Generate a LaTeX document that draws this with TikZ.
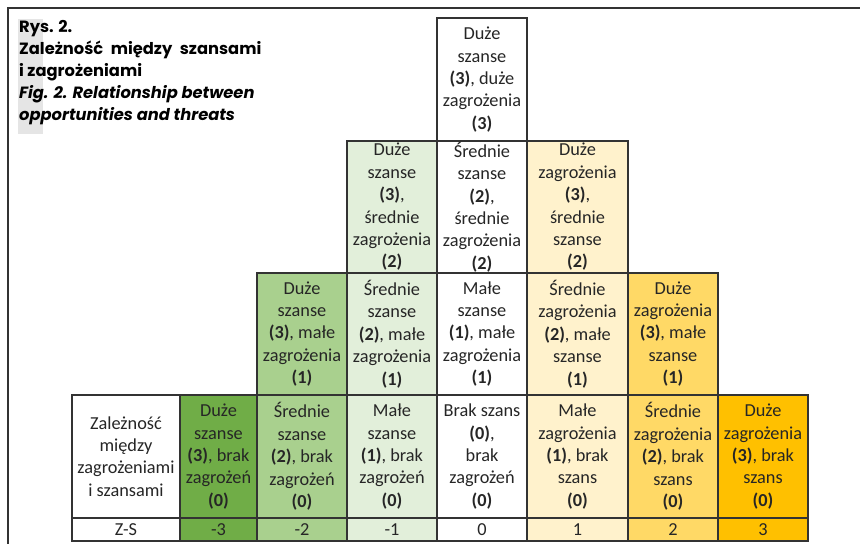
\documentclass[tikz,border=0pt]{standalone}
\usepackage{fontspec}
\setmainfont{Carlito}
\newfontfamily\titlefont{Poppins}
\definecolor{dgreen}{HTML}{70AD47}
\definecolor{mgreen}{HTML}{A9D08E}
\definecolor{lgreen}{HTML}{E2EFDA}
\definecolor{lyellow}{HTML}{FFF2CC}
\definecolor{myellow}{HTML}{FFD966}
\definecolor{dyellow}{HTML}{FFC000}
\definecolor{txt}{HTML}{262626}
\newcommand\cellfnt{\fontsize{18.3}{22.4}\selectfont}
\newcommand\ttlfnt{\titlefont\bfseries\fontsize{16.3}{21.7}\selectfont}
\begin{document}
\begin{tikzpicture}[x=1pt,y=-1pt,
  cell/.style={draw=black!80, line width=1.2pt, inner sep=0pt, align=center, font=\cellfnt, text=txt},
  ttl/.style={anchor=base west, inner sep=0pt, font=\ttlfnt, text=black},
  frame/.style={draw=black!80, line width=1.4pt}]
\useasboundingbox (0,0) rectangle (860,544);
% frame
\coordinate (ftr) at (860,8);
\coordinate (ftl) at (8,8);
\coordinate (fbl) at (8,544);
\draw[frame] (ftr) -- (ftl) -- (fbl);
% title
\fill[black!10] (18,19) rectangle (43,134);
\node[ttl] (t1) at (19,32) {Rys. 2.};
\node[ttl] (t2) at (19,54) {Zależność\hspace{0.25em} między\hspace{0.25em} szansami};
\node[ttl] (t3) at (19,76) {i zagrożeniami};
\node[ttl,font=\ttlfnt\itshape] (t4) at (19,98) {Fig. 2. Relationship between};
\node[ttl,font=\ttlfnt\itshape] (t5) at (19,120) {opportunities and threats};
% row 4
\node[cell,fill=white,minimum width=90pt,minimum height=123pt] (r4e) at (482,79.5)
  {Duże\\szanse\\\textbf{(3)}, duże\\zagrożenia\\\textbf{(3)}};
% row 3
\node[cell,fill=lgreen,minimum width=90pt,minimum height=132pt] (r3d) at (392,207)
  {Duże\\szanse\\\textbf{(3)},\\średnie\\zagrożenia\\\textbf{(2)}};
\node[cell,fill=white,minimum width=90pt,minimum height=132pt] (r3e) at (482,207)
  {Średnie\\szanse\\\textbf{(2)},\\średnie\\zagrożenia\\\textbf{(2)}};
\node[cell,fill=lyellow,minimum width=101pt,minimum height=132pt] (r3f) at (577.5,207)
  {Duże\\zagrożenia\\\textbf{(3)},\\średnie\\szanse\\\textbf{(2)}};
% row 2
\node[cell,fill=mgreen,minimum width=90pt,minimum height=122pt] (r2c) at (302,334)
  {Duże\\szanse\\\textbf{(3)}, małe\\zagrożenia\\\textbf{(1)}};
\node[cell,fill=lgreen,minimum width=90pt,minimum height=122pt] (r2d) at (392,334)
  {Średnie\\szanse\\\textbf{(2)}, małe\\zagrożenia\\\textbf{(1)}};
\node[cell,fill=white,minimum width=90pt,minimum height=122pt] (r2e) at (482,334)
  {Małe\\szanse\\\textbf{(1)}, małe\\zagrożenia\\\textbf{(1)}};
\node[cell,fill=lyellow,minimum width=101pt,minimum height=122pt] (r2f) at (577.5,334)
  {Średnie\\zagrożenia\\\textbf{(2)}, małe\\szanse\\\textbf{(1)}};
\node[cell,fill=myellow,minimum width=90pt,minimum height=122pt] (r2g) at (673,334)
  {Duże\\zagrożenia\\\textbf{(3)}, małe\\szanse\\\textbf{(1)}};
% row 1
\node[cell,fill=white,minimum width=108pt,minimum height=123pt] (r1a) at (126,456.5)
  {Zależność\\między\\zagrożeniami\\i szansami};
\node[cell,fill=dgreen,minimum width=77pt,minimum height=123pt] (r1b) at (218.5,456.5)
  {Duże\\szanse\\\textbf{(3)}, brak\\zagrożeń\\\textbf{(0)}};
\node[cell,fill=mgreen,minimum width=90pt,minimum height=123pt] (r1c) at (302,456.5)
  {Średnie\\szanse\\\textbf{(2)}, brak\\zagrożeń\\\textbf{(0)}};
\node[cell,fill=lgreen,minimum width=90pt,minimum height=123pt] (r1d) at (392,456.5)
  {Małe\\szanse\\\textbf{(1)}, brak\\zagrożeń\\\textbf{(0)}};
\node[cell,fill=white,minimum width=90pt,minimum height=123pt] (r1e) at (482,456.5)
  {Brak szans\\\textbf{(0)},\\brak\\zagrożeń\\\textbf{(0)}};
\node[cell,fill=lyellow,minimum width=101pt,minimum height=123pt] (r1f) at (577.5,456.5)
  {Małe\\zagrożenia\\\textbf{(1)}, brak\\szans\\\textbf{(0)}};
\node[cell,fill=myellow,minimum width=90pt,minimum height=123pt] (r1g) at (673,456.5)
  {Średnie\\zagrożenia\\\textbf{(2)}, brak\\szans\\\textbf{(0)}};
\node[cell,fill=dyellow,minimum width=90pt,minimum height=123pt] (r1h) at (763,456.5)
  {Duże\\zagrożenia\\\textbf{(3)}, brak\\szans\\\textbf{(0)}};
% row 0
\node[cell,fill=white,minimum width=108pt,minimum height=23pt] (r0a) at (126,529.5) {Z-S};
\node[cell,fill=dgreen,minimum width=77pt,minimum height=23pt] (r0b) at (218.5,529.5) {-3};
\node[cell,fill=mgreen,minimum width=90pt,minimum height=23pt] (r0c) at (302,529.5) {-2};
\node[cell,fill=lgreen,minimum width=90pt,minimum height=23pt] (r0d) at (392,529.5) {-1};
\node[cell,fill=white,minimum width=90pt,minimum height=23pt] (r0e) at (482,529.5) {0};
\node[cell,fill=lyellow,minimum width=101pt,minimum height=23pt] (r0f) at (577.5,529.5) {1};
\node[cell,fill=myellow,minimum width=90pt,minimum height=23pt] (r0g) at (673,529.5) {2};
\node[cell,fill=dyellow,minimum width=90pt,minimum height=23pt] (r0h) at (763,529.5) {3};
\end{tikzpicture}
\end{document}
